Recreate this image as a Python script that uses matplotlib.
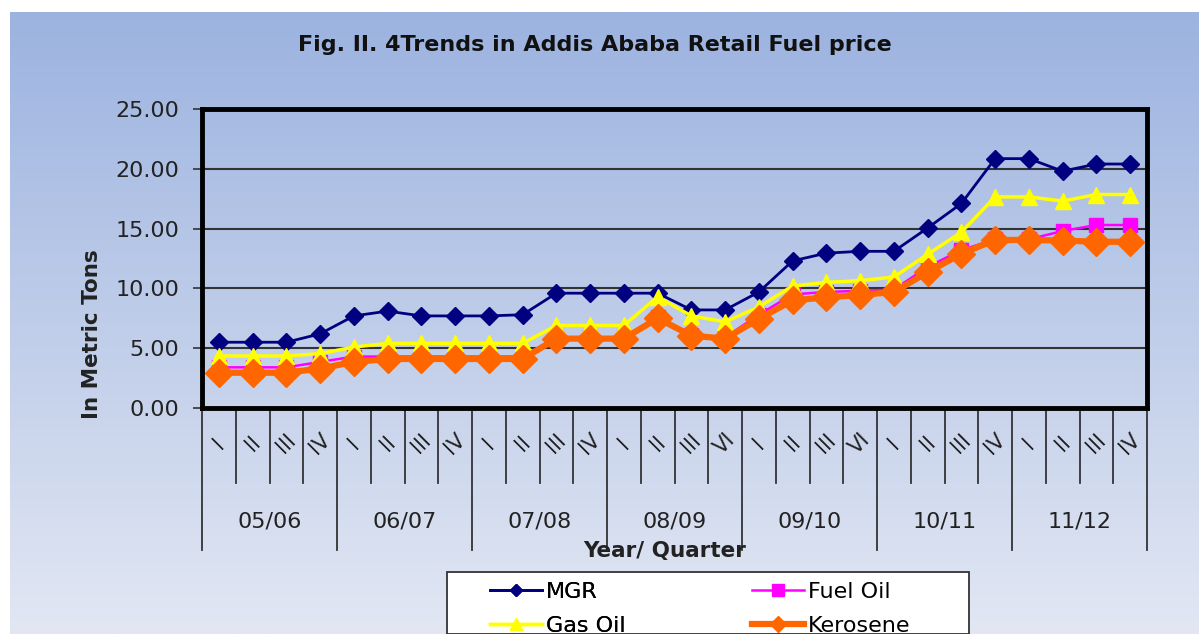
import matplotlib
matplotlib.use("Agg")
import matplotlib.pyplot as plt
import numpy as np
from matplotlib.lines import Line2D
from matplotlib.patches import Rectangle

years = ["05/06", "06/07", "07/08", "08/09", "09/10", "10/11", "11/12"]
quarters = [
    ["I", "II", "III", "IV"],
    ["I", "II", "III", "IV"],
    ["I", "II", "III", "IV"],
    ["I", "II", "III", "VI"],
    ["I", "II", "III", "VI"],
    ["I", "II", "III", "IV"],
    ["I", "II", "III", "IV"],
]
mgr = [5.5, 5.5, 5.5, 6.2, 7.7, 8.1, 7.7, 7.7, 7.7, 7.8, 9.6, 9.6, 9.6, 9.6,
       8.2, 8.2, 9.7, 12.3, 12.95, 13.1, 13.1, 15.05, 17.1, 20.85, 20.85, 19.8, 20.4, 20.4]
fuel_oil = [3.4, 3.4, 3.4, 3.85, 4.3, 4.3, 4.3, 4.3, 4.3, 4.3, 5.9, 5.9, 5.9, 7.6,
            6.1, 5.9, 7.8, 9.5, 9.7, 9.8, 9.9, 11.8, 13.2, 14.1, 14.1, 14.8, 15.3, 15.3]
gas_oil = [4.35, 4.35, 4.35, 4.55, 5.1, 5.4, 5.4, 5.4, 5.4, 5.4, 6.9, 6.9, 6.9, 9.3,
           7.7, 7.2, 8.45, 10.2, 10.5, 10.65, 10.95, 12.85, 14.7, 17.65, 17.65, 17.3, 17.85, 17.85]
kerosene = [2.95, 2.95, 2.95, 3.3, 3.85, 4.1, 4.1, 4.1, 4.1, 4.1, 5.8, 5.8, 5.8, 7.5,
            6.05, 5.8, 7.45, 9.0, 9.25, 9.45, 9.7, 11.35, 12.9, 14.05, 14.05, 14.0, 13.9, 13.9]
yticks = [0, 5, 10, 15, 20, 25]

FONT = ["DejaVu Sans"]
TXT = "#222222"

W, H = 1199, 634
fig = plt.figure(figsize=(W / 100, H / 100), dpi=100)
fig.patch.set_facecolor("white")

# gradient background
bg = fig.add_axes([10 / W, 0, 1 - 10 / W, 1 - 12 / H], zorder=-10)
top = np.array([156, 179, 224]) / 255
bot = np.array([226, 231, 243]) / 255
t = np.linspace(0, 1, 256)[:, None]
grad = (top[None, :] * (1 - t) + bot[None, :] * t)[:, None, :]
bg.imshow(grad, aspect="auto", extent=[0, 1, 0, 1])
bg.set_axis_off()

L, R, T, B = 202, 1147, 109, 408
ax = fig.add_axes([L / W, 1 - B / H, (R - L) / W, (B - T) / H])
ax.patch.set_alpha(0)
x = np.arange(len(mgr))

styles = {
    "MGR": dict(color="#000080", lw=2, marker="D", ms=9),
    "Fuel Oil": dict(color="#FF00FF", lw=1.8, marker="s", ms=10),
    "Gas Oil": dict(color="#FFFF00", lw=2.5, marker="^", ms=11),
    "Kerosene": dict(color="#FF6600", lw=4.5, marker="D", ms=14),
}
ax.plot(x, mgr, zorder=3, **styles["MGR"])
ax.plot(x, fuel_oil, zorder=4, **styles["Fuel Oil"])
ax.plot(x, gas_oil, zorder=5, **styles["Gas Oil"])
ax.plot(x, kerosene, zorder=6, **styles["Kerosene"])

ax.set_xlim(-0.5, len(mgr) - 0.5)
ax.set_ylim(0, 25)
ax.set_yticks(yticks)
ax.set_yticklabels([f"{v:.2f}" for v in yticks], fontsize=16, color=TXT, family=FONT)
ax.tick_params(axis="y", length=6.5, width=1.2, pad=10, color="#333333")
ax.set_xticks([])
for s in ax.spines.values():
    s.set_linewidth(3.5)
    s.set_color("black")
for v in yticks[1:-1]:
    ax.axhline(v, color="#333333", lw=1.5, zorder=1)

# multi-level x axis
xt = ax.get_xaxis_transform()
n = len(mgr)
for k in range(n + 1):
    yb = -0.475 if k % 4 == 0 else -0.251
    ax.plot([k - 0.5, k - 0.5], [0, yb], transform=xt, clip_on=False,
            color="#333333", lw=1.3)
i = 0
for g, yr in enumerate(years):
    for q in quarters[g]:
        ax.text(i, -0.118, q, rotation=45, ha="center", va="center", transform=xt,
                fontsize=15, color=TXT, family=FONT)
        i += 1
    ax.text(4 * g + 1.5, -0.381, yr, ha="center", va="center", transform=xt,
            fontsize=16, color=TXT, family=FONT)

fig.text(665 / W, 1 - 551 / H, "Year/ Quarter", ha="center", va="center",
         fontsize=15.5, fontweight="bold", color=TXT, family=FONT)
fig.text(92 / W, 1 - 334 / H, "In Metric Tons", ha="center", va="center", rotation=90,
         fontsize=15.5, fontweight="bold", color=TXT, family=FONT)
fig.text(595 / W, 1 - 45 / H, "Fig. II. 4Trends in Addis Ababa Retail Fuel price",
         ha="center", va="center", fontsize=16, fontweight="bold", color="#111111",
         family=FONT)

# legend frame
fig.add_artist(Rectangle((447 / W, 0), (969 - 447) / W, 1 - 572 / H,
                         transform=fig.transFigure, facecolor="white",
                         edgecolor="#333333", lw=1.3, zorder=5))

def handle(name, ms):
    st = dict(styles[name])
    st["ms"] = ms
    return Line2D([], [], **st)

legkw = dict(loc="upper left", frameon=False, handlelength=2.35, handletextpad=0.15,
             borderpad=0, borderaxespad=0, labelspacing=0.62,
             prop={"family": FONT, "size": 16})
leg1 = fig.legend([handle("MGR", 6.5), handle("Gas Oil", 8.5)], ["MGR", "Gas Oil"],
                  bbox_to_anchor=(490 / W, 1 - 582 / H), **legkw)
leg1.set_zorder(6)
fig.add_artist(leg1)
leg2 = fig.legend([handle("Fuel Oil", 8.5), handle("Kerosene", 8.5)], ["Fuel Oil", "Kerosene"],
                  bbox_to_anchor=(752 / W, 1 - 582 / H), **legkw)
leg2.set_zorder(6)

fig.savefig("out.png", dpi=100, facecolor=fig.get_facecolor())
